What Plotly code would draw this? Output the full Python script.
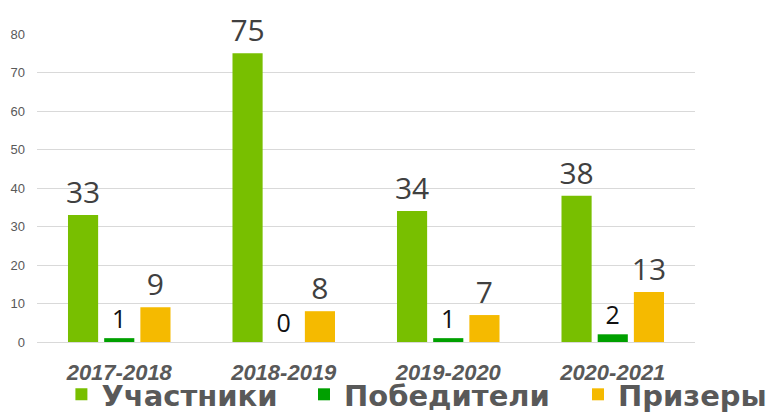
import plotly.graph_objects as go

years = ["2017-2018", "2018-2019", "2019-2020", "2020-2021"]
participants = [33, 75, 34, 38]
winners = [1, 0, 1, 2]
prizewinners = [9, 8, 7, 13]

series = [
    ("Участники", participants, "#78BF00", "legend", 30, "#404040"),
    ("Победители", winners, "#00A000", "legend2", 25, "#111111"),
    ("Призеры", prizewinners, "#F5BA00", "legend3", 30, "#404040"),
]

fig = go.Figure()
for name, vals, col, lg, fs, fc in series:
    fig.add_trace(go.Bar(
        x=years, y=vals, name=name, marker=dict(color=col, line=dict(width=0)),
        text=[str(v) for v in vals], textposition="outside",
        textfont=dict(family="Open Sans", size=fs, color=fc),
        constraintext="none",
        cliponaxis=False, legend=lg,
    ))

legend_font = dict(family="DejaVu Sans", size=29, color="#595959", weight="bold")
common = dict(orientation="h", xref="container", yref="container",
              xanchor="left", yanchor="middle", y=0.062,
              font=legend_font, itemwidth=30, bgcolor="rgba(0,0,0,0)")

fig.update_layout(
    width=774, height=412,
    margin=dict(l=29, r=87, t=26, b=78, autoexpand=False),
    barmode="group", bargap=0.34, bargroupgap=0.167,
    plot_bgcolor="white", paper_bgcolor="white",
    showlegend=True,
    legend=dict(x=0.069, **common),
    legend2=dict(x=0.3824, **common),
    legend3=dict(x=0.7364, **common),
)
fig.update_xaxes(
    showgrid=False, showline=False, zeroline=False,
    tickfont=dict(family="Liberation Sans", size=22, color="#595959", weight="bold", style="italic"),
    ticklabelstandoff=15,
)
fig.update_yaxes(
    range=[0, 80], dtick=10, showgrid=True, gridcolor="#D9D9D9", gridwidth=1,
    zeroline=True, zerolinecolor="#D9D9D9", zerolinewidth=1,
    showline=False, tickfont=dict(family="Liberation Sans", size=13, color="#595959"),
    ticklabelstandoff=11,
)

fig.write_html("out.html")
